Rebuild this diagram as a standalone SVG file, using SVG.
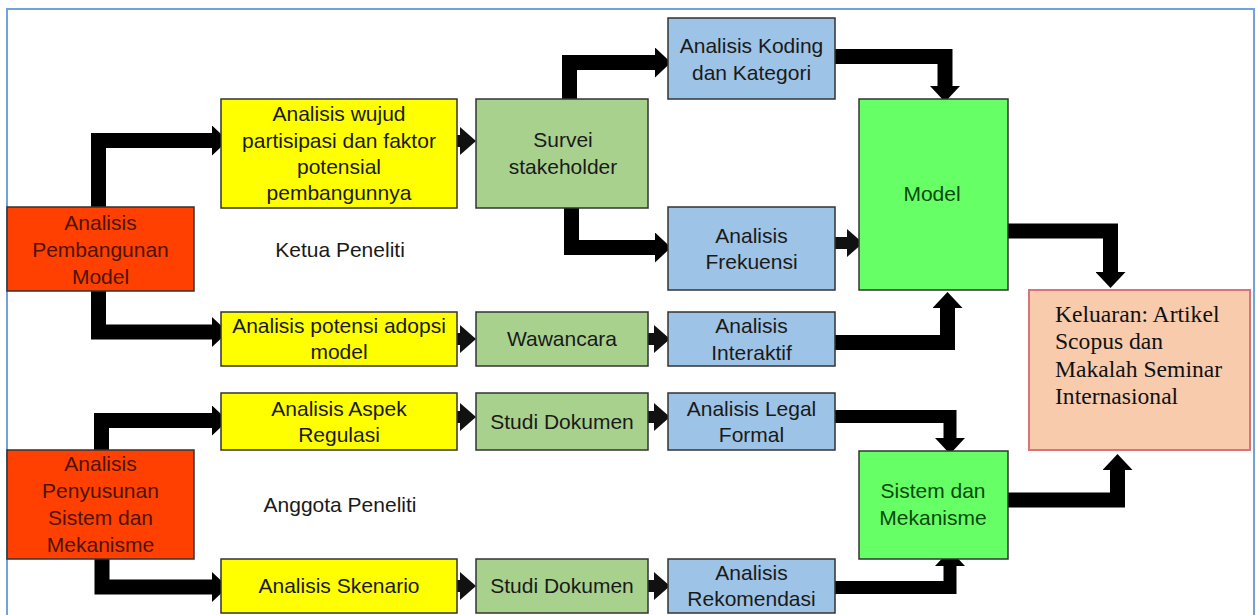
<svg xmlns="http://www.w3.org/2000/svg" width="1256" height="615" viewBox="0 0 1256 615">
<style>
.box{stroke:#333;stroke-width:1.5}
.red{fill:#ff4000}
.yel{fill:#ffff00}
.grn{fill:#a9d18e}
.blu{fill:#9dc3e6}
.lim{fill:#66ff66}
.out{fill:#f8cbad;stroke:#d9737a;stroke-width:2}
text{font-family:"Liberation Sans",Arial,sans-serif;font-size:21px;fill:#1a1a1a;text-anchor:middle}
.rt{fill:#4d1408}
.gt{fill:#0b4a0b}
.tt{font-family:"Liberation Serif","Times New Roman",serif;font-size:23.6px;fill:#111;text-anchor:start}
.big{fill:none;stroke:#000;stroke-width:15;stroke-linejoin:miter}
.mid{fill:none;stroke:#000;stroke-width:13;stroke-linejoin:miter}
.sm{fill:none;stroke:#111;stroke-width:12}
</style>
<defs>
<marker id="ah" markerUnits="userSpaceOnUse" markerWidth="16" markerHeight="30" viewBox="0 0 16 30" refX="0" refY="15" orient="auto">
<path d="M0,0 L16,15 L0,30 z" fill="#000"/>
</marker>
<marker id="as" markerUnits="userSpaceOnUse" markerWidth="16" markerHeight="28" viewBox="0 0 16 28" refX="0" refY="14" orient="auto">
<path d="M0,0 L16,14 L0,28 z" fill="#111"/>
</marker>
</defs>
<rect x="0" y="0" width="1256" height="615" fill="#fff"/>
<rect x="7" y="9" width="1247" height="630" fill="none" stroke="#6fa3dc" stroke-width="2"/>

<g id="connectors">
<path class="big" d="M98.5,207 V140.5 H212" marker-end="url(#ah)"/>
<path class="big" d="M98.5,291 V332 H212" marker-end="url(#ah)"/>
<path class="big" d="M101.5,450 V420.5 H212" marker-end="url(#ah)"/>
<path class="big" d="M102,559 V587 H212" marker-end="url(#ah)"/>
<path class="big" d="M569.5,99 V62.5 H655" marker-end="url(#ah)"/>
<path class="big" d="M571.5,208 V247.5 H655" marker-end="url(#ah)"/>
<path class="big" d="M835,56.5 H945 V86" marker-end="url(#ah)"/>
<path class="big" d="M835,342.5 H947.5 V308" marker-end="url(#ah)"/>
<path class="mid" d="M835,416.5 H950 V438" marker-end="url(#ah)"/>
<path class="mid" d="M835,587.5 H950 V566" marker-end="url(#ah)"/>
<path class="big" d="M1005,231 H1110.5 V272" marker-end="url(#ah)"/>
<path class="big" d="M1004,500 H1117.5 V470" marker-end="url(#ah)"/>
<path class="sm" d="M447,141 H460" marker-end="url(#as)"/>
<path class="sm" d="M447,339 H460" marker-end="url(#as)"/>
<path class="sm" d="M645,339 H654" marker-end="url(#as)"/>
<path class="sm" d="M447,417 H460" marker-end="url(#as)"/>
<path class="sm" d="M645,417 H654" marker-end="url(#as)"/>
<path class="sm" d="M447,586 H460" marker-end="url(#as)"/>
<path class="sm" d="M645,586 H654" marker-end="url(#as)"/>
<path class="sm" d="M835,243 H847" marker-end="url(#as)"/>
</g>

<g id="n-pembangunan">
<rect class="box red" x="7" y="207" width="187" height="84"/>
<text class="rt" x="100.5" y="230">Analisis</text>
<text class="rt" x="100.5" y="257">Pembangunan</text>
<text class="rt" x="100.5" y="284">Model</text>
</g>
<g id="n-penyusunan">
<rect class="box red" x="7" y="450" width="187" height="109"/>
<text class="rt" x="100.5" y="471">Analisis</text>
<text class="rt" x="100.5" y="498">Penyusunan</text>
<text class="rt" x="100.5" y="525">Sistem dan</text>
<text class="rt" x="100.5" y="552">Mekanisme</text>
</g>
<g id="n-wujud">
<rect class="box yel" x="221" y="99" width="236" height="109"/>
<text x="339" y="121">Analisis wujud</text>
<text x="339" y="148">partisipasi dan faktor</text>
<text x="339" y="174">potensial</text>
<text x="339" y="200">pembangunnya</text>
</g>
<g id="n-adopsi">
<rect class="box yel" x="221" y="312" width="236" height="54"/>
<text x="339" y="333">Analisis potensi adopsi</text>
<text x="339" y="359">model</text>
</g>
<g id="n-regulasi">
<rect class="box yel" x="221" y="393" width="236" height="57"/>
<text x="339" y="416">Analisis Aspek</text>
<text x="339" y="442">Regulasi</text>
</g>
<g id="n-skenario">
<rect class="box yel" x="221" y="559" width="236" height="54"/>
<text x="339" y="593">Analisis Skenario</text>
</g>
<g id="lbl-ketua"><text x="340" y="257">Ketua Peneliti</text></g>
<g id="lbl-anggota"><text x="340" y="512">Anggota Peneliti</text></g>

<g id="n-survei">
<rect class="box grn" x="476" y="99" width="172" height="109"/>
<text x="563" y="147">Survei</text>
<text x="563" y="174">stakeholder</text>
</g>
<g id="n-wawancara">
<rect class="box grn" x="476" y="312" width="172" height="54"/>
<text x="562" y="346">Wawancara</text>
</g>
<g id="n-studi1">
<rect class="box grn" x="476" y="393" width="172" height="57"/>
<text x="562" y="429">Studi Dokumen</text>
</g>
<g id="n-studi2">
<rect class="box grn" x="476" y="559" width="172" height="54"/>
<text x="562" y="593">Studi Dokumen</text>
</g>

<g id="n-koding">
<rect class="box blu" x="668" y="18" width="167" height="81"/>
<text x="751.5" y="53">Analisis Koding</text>
<text x="751.5" y="80">dan Kategori</text>
</g>
<g id="n-frekuensi">
<rect class="box blu" x="668" y="207" width="167" height="83"/>
<text x="751.5" y="243">Analisis</text>
<text x="751.5" y="269">Frekuensi</text>
</g>
<g id="n-interaktif">
<rect class="box blu" x="668" y="312" width="167" height="54"/>
<text x="751.5" y="333">Analisis</text>
<text x="751.5" y="360">Interaktif</text>
</g>
<g id="n-legal">
<rect class="box blu" x="668" y="393" width="167" height="57"/>
<text x="751.5" y="416">Analisis Legal</text>
<text x="751.5" y="442">Formal</text>
</g>
<g id="n-rekomendasi">
<rect class="box blu" x="668" y="559" width="167" height="54"/>
<text x="751.5" y="580">Analisis</text>
<text x="751.5" y="606">Rekomendasi</text>
</g>

<g id="n-model">
<rect class="box lim" x="859" y="99" width="149" height="191"/>
<text class="gt" x="932" y="201">Model</text>
</g>
<g id="n-sistem">
<rect class="box lim" x="859" y="451" width="149" height="108"/>
<text class="gt" x="933" y="498">Sistem dan</text>
<text class="gt" x="933" y="525">Mekanisme</text>
</g>
<g id="n-keluaran">
<rect class="out" x="1029" y="290" width="221" height="160"/>
<text class="tt" x="1055" y="322">Keluaran: Artikel</text>
<text class="tt" x="1055" y="349">Scopus dan</text>
<text class="tt" x="1055" y="377">Makalah Seminar</text>
<text class="tt" x="1055" y="404">Internasional</text>
</g>
</svg>
